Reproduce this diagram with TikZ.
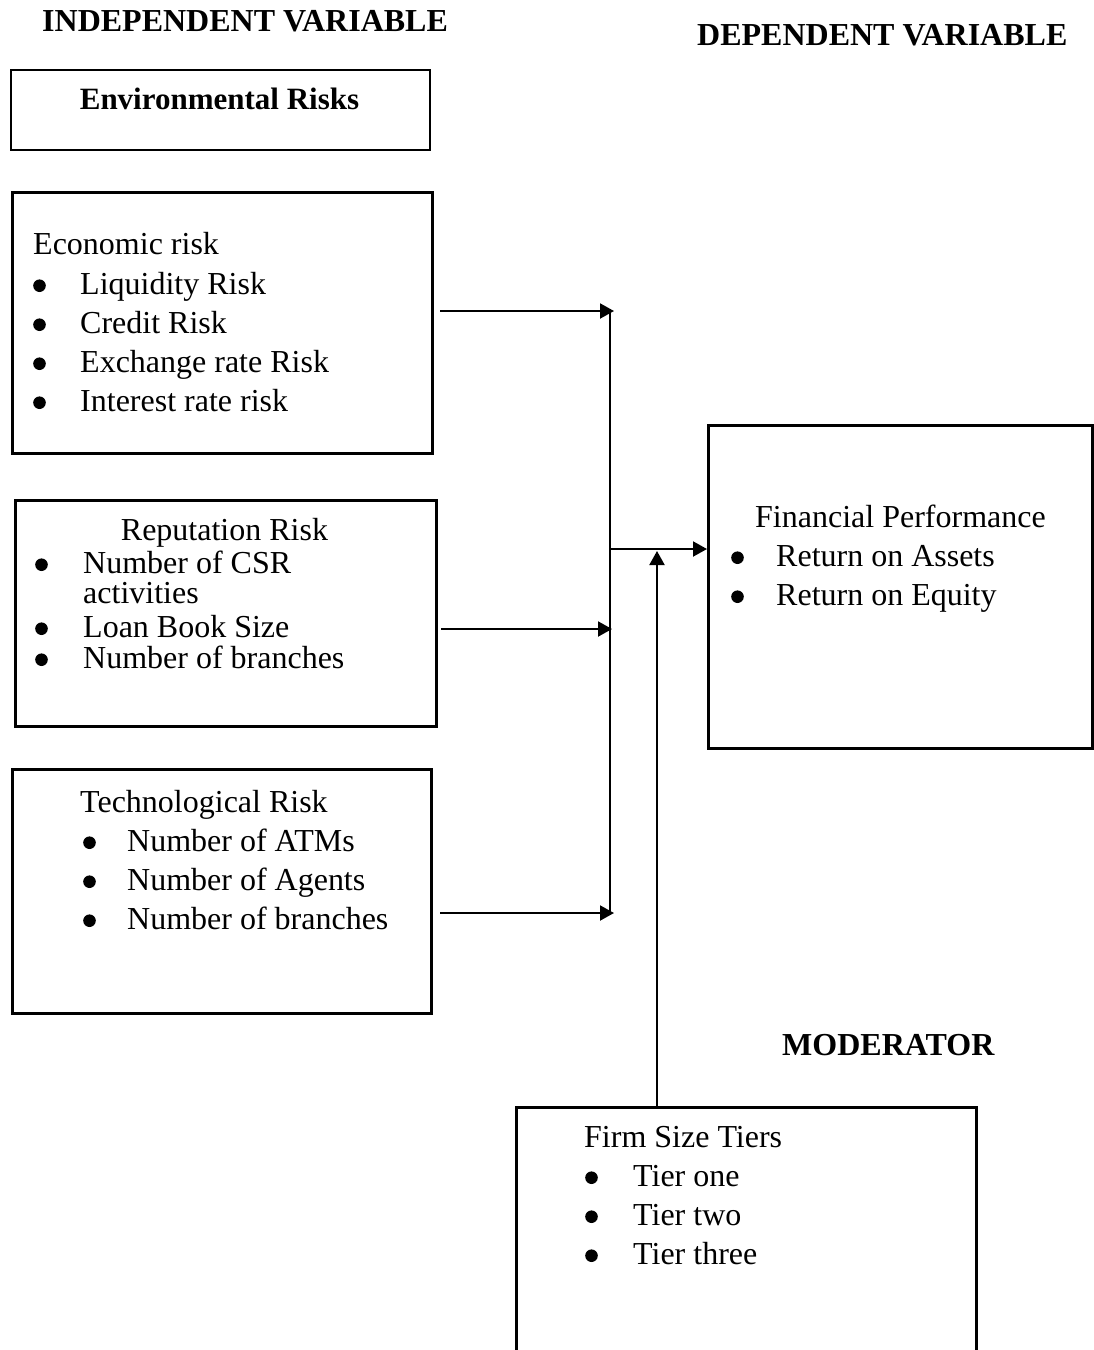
\documentclass[tikz,border=0pt]{standalone}
\usepackage{fontspec}
\setmainfont{Liberation Serif}
\usetikzlibrary{arrows.meta}
\newcommand\bulletline[2]{\makebox[#1][l]{\raisebox{2pt}{\tikz\fill (0,0) circle (6.3pt);}}#2}
\begin{document}
\begin{tikzpicture}[x=1pt,y=-1pt,
  txt/.style={anchor=base west,inner sep=0pt,font=\fontsize{32}{38}\selectfont},
  head/.style={anchor=base west,inner sep=0pt,font=\fontsize{32}{38}\selectfont\bfseries},
  box/.style={draw,line width=3pt,inner sep=0pt,anchor=north west},
  arr/.style={line width=2pt,-{Triangle[length=14pt,width=15pt]}},
  trunk/.style={line width=2pt}]
\useasboundingbox (0,0) rectangle (1093,1350);
\fill[white] (0,0) rectangle (1093,1350);

% headings
\node[head] (hind) at (42,31) {INDEPENDENT VARIABLE};
\node[head] (hdep) at (697,45) {DEPENDENT VARIABLE};
\node[head] (hmod) at (782,1055) {MODERATOR};

% boxes
\node[box,line width=1.5pt,minimum width=419pt,minimum height=80pt] (env) at (10,69) {};
\node[inner sep=0pt,anchor=base,font=\fontsize{31}{37}\selectfont\bfseries] (envt) at (219.5,109) {Environmental Risks};

\node[box,minimum width=420pt,minimum height=261pt] (econ) at (11,191) {};
\node[box,minimum width=421.5pt,minimum height=226.5pt] (rep) at (13.5,498.5) {};
\node[box,minimum width=419pt,minimum height=244pt] (tech) at (11,768) {};
\node[box,minimum width=384pt,minimum height=323pt] (fp) at (707,424) {};
\node[box,minimum width=460pt,minimum height=244.5pt] (firm) at (515,1105.5) {};

% economic
\node[txt] (e0) at (33,254) {Economic risk};
\node[txt] (e1) at (33,294) {\bulletline{47pt}{Liquidity Risk}};
\node[txt] (e2) at (33,333) {\bulletline{47pt}{Credit Risk}};
\node[txt] (e3) at (33,372) {\bulletline{47pt}{Exchange rate Risk}};
\node[txt] (e4) at (33,411) {\bulletline{47pt}{Interest rate risk}};

% reputation
\node[txt,anchor=base] (r0) at (224.5,540) {Reputation Risk};
\node[txt] (r1) at (35,573) {\bulletline{48pt}{Number of CSR}};
\node[txt] (r1b) at (83,603) {activities};
\node[txt] (r2) at (35,637) {\bulletline{48pt}{Loan Book Size}};
\node[txt] (r3) at (35,668) {\bulletline{48pt}{Number of branches}};

% technological
\node[txt] (t0) at (80,812) {Technological Risk};
\node[txt] (tl1) at (83,851) {\bulletline{44pt}{Number of ATMs}};
\node[txt] (tl2) at (83,890) {\bulletline{44pt}{Number of Agents}};
\node[txt] (tl3) at (83,929) {\bulletline{44pt}{Number of branches}};

% financial performance
\node[txt] (f0) at (755,527) {Financial Performance};
\node[txt] (f1) at (731,566) {\bulletline{45pt}{Return on Assets}};
\node[txt] (f2) at (731,605) {\bulletline{45pt}{Return on Equity}};

% firm size
\node[txt] (s0) at (584,1147) {Firm Size Tiers};
\node[txt] (s1) at (585,1186) {\bulletline{48pt}{Tier one}};
\node[txt] (s2) at (585,1225) {\bulletline{48pt}{Tier two}};
\node[txt] (s3) at (585,1264) {\bulletline{48pt}{Tier three}};

% connectors
\coordinate (c1) at (614,311);
\coordinate (c2) at (612,629);
\coordinate (c3) at (614,913);
\coordinate (trtop) at (610,310);
\coordinate (trbot) at (610,915);
\coordinate (jn) at (610,549);
\coordinate (mt) at (657,551);

\draw[arr] ([xshift=6pt]econ.east |- c1) -- (c1);
\draw[arr] ([xshift=3pt]rep.east |- c2) -- (c2);
\draw[arr] ([xshift=7pt]tech.east |- c3) -- (c3);
\draw[trunk] (trtop) -- (trbot);
\draw[arr] (jn) -- (fp.west |- jn);
\draw[arr] (firm.north -| mt) -- (mt);
\end{tikzpicture}
\end{document}
